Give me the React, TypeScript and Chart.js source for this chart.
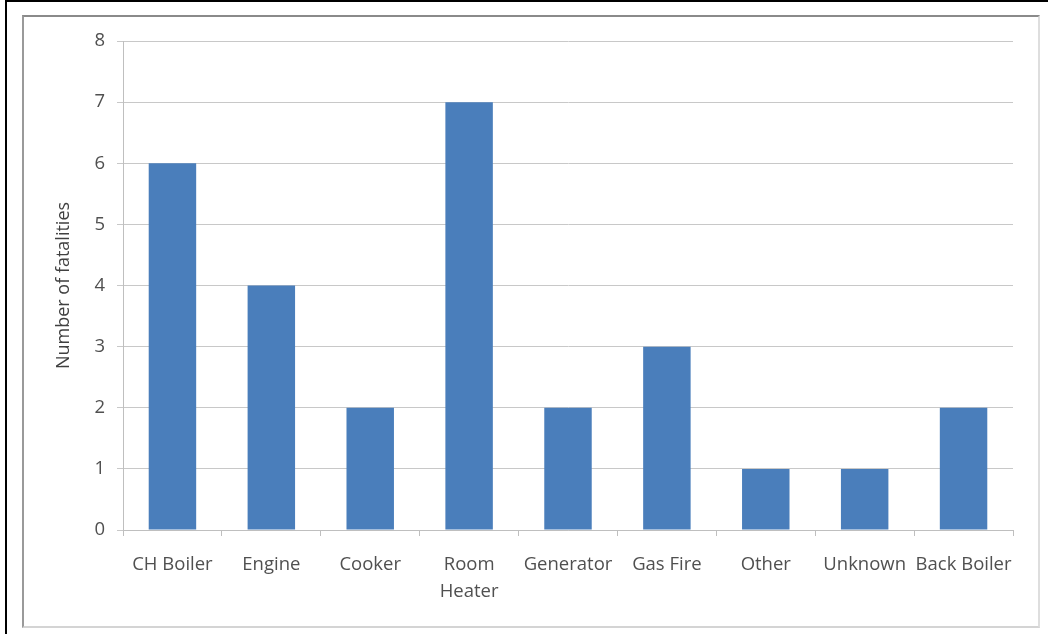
import React, { useEffect, useRef } from "react";
import { Chart, registerables } from "chart.js";

Chart.register(...registerables);

const categories: (string | string[])[] = [
  "CH Boiler",
  "Engine",
  "Cooker",
  ["Room", "Heater"],
  "Generator",
  "Gas Fire",
  "Other",
  "Unknown",
  "Back Boiler",
];
const fatalities = [6, 4, 2, 7, 2, 3, 1, 1, 2];
const yMin = 0;
const yMax = 8;
const yStep = 1;
const yTitle = "Number of fatalities";

export default function App() {
  const ref = useRef<HTMLCanvasElement | null>(null);

  useEffect(() => {
    if (!ref.current) return;
    const fam = "'Open Sans', sans-serif";
    const chart = new Chart(ref.current, {
      type: "bar",
      data: {
        labels: categories,
        datasets: [
          {
            data: fatalities,
            backgroundColor: "#4A7EBB",
            borderWidth: 0,
            barPercentage: 0.48,
            categoryPercentage: 1,
          },
        ],
      },
      options: {
        animation: false,
        responsive: false,
        maintainAspectRatio: false,
        layout: { padding: { left: 50, top: 41, right: 35, bottom: 20 } },
        plugins: { legend: { display: false }, tooltip: { enabled: false } },
        scales: {
          x: {
            offset: true,
            grid: {
              display: true,
              drawOnChartArea: false,
              drawTicks: true,
              tickLength: 6,
              color: "#BFBFBF",
              offset: true,
            },
            border: { display: true, color: "#BFBFBF" },
            ticks: {
              font: { family: fam, size: 18.5, lineHeight: 1.45 },
              color: "#505050",
              padding: 15,
              maxRotation: 0,
              autoSkip: false,
            },
            afterFit: (s: any) => {
              s.height = 84;
            },
          },
          y: {
            min: yMin,
            max: yMax,
            grid: { color: "#C8C8C8", tickLength: 6 },
            border: { display: true, color: "#BFBFBF" },
            ticks: {
              stepSize: yStep,
              font: { family: fam, size: 18.5 },
              color: "#505050",
              padding: 12,
            },
            title: {
              display: true,
              text: yTitle,
              font: { family: fam, size: 18 },
              color: "#404040",
              padding: { top: 3, bottom: 0 },
            },
            afterFit: (s: any) => {
              s.width = 73;
            },
          },
        },
      },
    });
    return () => chart.destroy();
  }, []);

  return (
    <div
      style={{
        position: "fixed",
        left: 0,
        top: 0,
        width: 1048,
        height: 634,
        background: "#fff",
        overflow: "hidden",
      }}
    >
      <div
        style={{
          position: "absolute",
          left: 5,
          top: 0,
          width: 1100,
          height: 700,
          borderLeft: "2px solid #000",
          borderTop: "2px solid #000",
        }}
      />
      <div
        style={{
          position: "absolute",
          left: 22,
          top: 15,
          width: 1014,
          height: 609,
          borderTop: "2px solid #8a8a8a",
          borderLeft: "2px solid #9a9a9a",
          borderRight: "2px solid #dedede",
          borderBottom: "2px solid #d4d4d4",
        }}
      />
      <canvas
        ref={ref}
        width={1048}
        height={634}
        style={{ position: "absolute", left: 0, top: 0, width: 1048, height: 634 }}
      />
    </div>
  );
}
